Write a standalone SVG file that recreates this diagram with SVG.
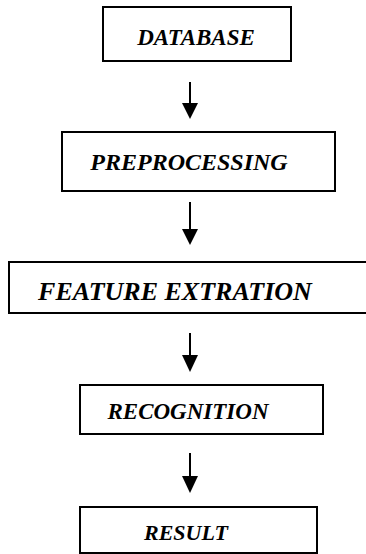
<svg xmlns="http://www.w3.org/2000/svg" width="366" height="554" viewBox="0 0 366 554">
<style>
.box{fill:#fff;stroke:#000;stroke-width:2}
.lbl{font-family:"Liberation Serif","Times New Roman",serif;font-weight:bold;font-style:italic;font-size:23px;fill:#000;text-anchor:middle}
.con{stroke:#000;stroke-width:2;fill:none}
.head{fill:#000}
</style>
<rect width="366" height="554" fill="#fff"/>
<g id="database"><rect class="box" x="103" y="7" width="188" height="54"/><text class="lbl" x="196" y="45">DATABASE</text></g>
<g id="preprocessing"><rect class="box" x="62" y="132" width="273" height="59"/><text class="lbl" x="189" y="170" style="font-size:24px">PREPROCESSING</text></g>
<g id="feature"><rect class="box" x="9" y="262" width="370" height="51"/><text class="lbl" x="175" y="300" style="font-size:26px">FEATURE EXTRATION</text></g>
<g id="recognition"><rect class="box" x="80" y="385" width="243" height="49"/><text class="lbl" x="188" y="419">RECOGNITION</text></g>
<g id="result"><rect class="box" x="80" y="507" width="237" height="46"/><text class="lbl" x="186" y="540" style="font-size:22px">RESULT</text></g>
<g id="connectors">
<line class="con" x1="190" y1="82" x2="190" y2="104"/><polygon class="head" points="182,103 198,103 190,119"/>
<line class="con" x1="190" y1="202" x2="190" y2="230"/><polygon class="head" points="182,229 198,229 190,245"/>
<line class="con" x1="190" y1="333" x2="190" y2="356"/><polygon class="head" points="182,355 198,355 190,372"/>
<line class="con" x1="190" y1="453" x2="190" y2="477"/><polygon class="head" points="182,476 198,476 190,493"/>
</g>
</svg>
